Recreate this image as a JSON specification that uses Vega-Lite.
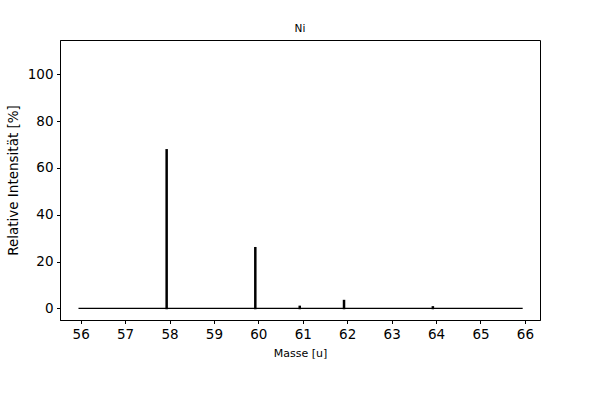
{
  "$schema": "https://vega.github.io/schema/vega-lite/v6.json",
  "autosize": {"type": "none"},
  "padding": {"left": 60, "top": 40, "right": 60, "bottom": 80},
  "width": 480,
  "height": 280,
  "background": "white",
  "title": {"text": "Ni", "fontSize": 10.5, "font": "DejaVu Sans", "fontWeight": "normal", "offset": 6, "color": "black"},
  "config": {
    "view": {"stroke": "black", "strokeWidth": 1},
    "axis": {
      "grid": false,
      "domainColor": "black",
      "tickColor": "black",
      "tickSize": 3.5,
      "labelFont": "DejaVu Sans",
      "labelFontSize": 13.5,
      "labelColor": "black",
      "titleFont": "DejaVu Sans",
      "titleFontWeight": "normal",
      "titleColor": "black"
    }
  },
  "datasets": {
    "peaks": [
      {"mass": 57.935, "intensity": 68.077},
      {"mass": 59.931, "intensity": 26.223},
      {"mass": 60.931, "intensity": 1.14},
      {"mass": 61.928, "intensity": 3.634},
      {"mass": 63.928, "intensity": 0.926}
    ],
    "base": [
      {"start": 55.95, "end": 65.95, "level": 0}
    ]
  },
  "layer": [
    {
      "data": {"name": "base"},
      "mark": {"type": "rule", "color": "black", "strokeWidth": 1.3},
      "encoding": {
        "x": {"field": "start", "type": "quantitative", "scale": {"domain": [55.534, 66.34], "nice": false, "zero": false},
              "axis": {"values": [56, 57, 58, 59, 60, 61, 62, 63, 64, 65, 66], "title": "Masse [u]", "titleFontSize": 11, "titlePadding": 7, "labelPadding": 3.5, "format": "d"}},
        "x2": {"field": "end"},
        "y": {"field": "level", "type": "quantitative", "scale": {"domain": [-5, 114.7], "nice": false, "zero": false},
              "axis": {"values": [0, 20, 40, 60, 80, 100], "title": "Relative Intensität [%]", "titleFontSize": 13.5, "titlePadding": 7, "labelPadding": 3.5}}
      }
    },
    {
      "data": {"name": "peaks"},
      "mark": {"type": "rule", "color": "black", "strokeWidth": 2.5},
      "encoding": {
        "x": {"field": "mass", "type": "quantitative"},
        "y": {"field": "intensity", "type": "quantitative"},
        "y2": {"datum": -0.4}
      }
    }
  ]
}
